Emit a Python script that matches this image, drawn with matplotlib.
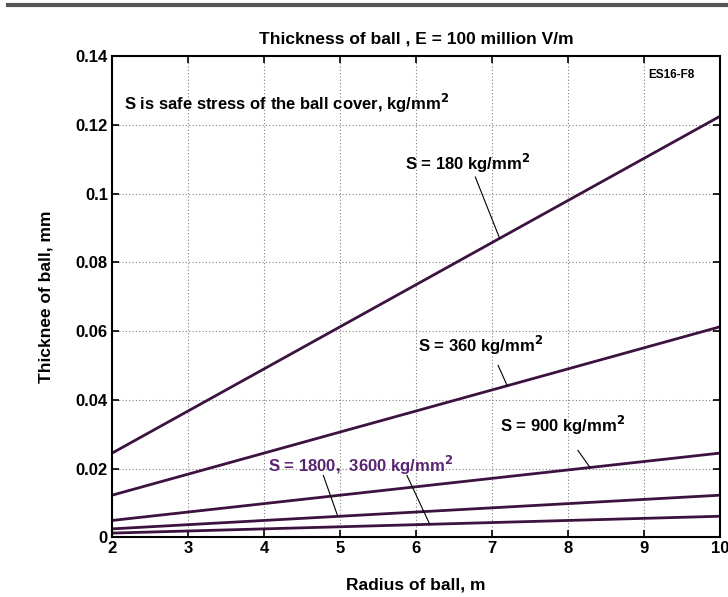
import matplotlib
matplotlib.use("Agg")
import matplotlib.pyplot as plt
from matplotlib.lines import Line2D

plt.rcParams['font.family'] = ['Liberation Sans', 'DejaVu Sans']

# Data
radius = [2, 10]
stress_labels = ["180", "360", "900", "1800", "3600"]
thick_180 = [0.0245, 0.1225]
thick_360 = [0.01225, 0.06125]
thick_900 = [0.0049, 0.0245]
thick_1800 = [0.00245, 0.01225]
thick_3600 = [0.001225, 0.006125]
series = [thick_180, thick_360, thick_900, thick_1800, thick_3600]
xticks = [2, 3, 4, 5, 6, 7, 8, 9, 10]
yticks = [0, 0.02, 0.04, 0.06, 0.08, 0.1, 0.12, 0.14]
ytick_labels = ["0", "0.02", "0.04", "0.06", "0.08", "0.1", "0.12", "0.14"]

line_color = "#3d1240"
label_purple = "#5a2570"

fig = plt.figure(figsize=(7.28, 5.97), dpi=100)
ax = fig.add_axes([0.154, 0.100, 0.835, 0.806])

for ys in series:
    ax.plot(radius, ys, color=line_color, lw=2.0, solid_capstyle='butt')

ax.set_xlim(2, 10)
ax.set_ylim(0, 0.14)
ax.set_xticks(xticks)
ax.set_xticklabels([str(x) for x in xticks], fontsize=12, fontweight='bold')
ax.set_yticks(yticks)
ax.set_yticklabels(ytick_labels, fontsize=12, fontweight='bold')
ax.tick_params(direction='in', top=True, right=True, length=5, width=1.2, pad=3)
ax.grid(True, linestyle=(0, (1, 2)), color='#808080', lw=0.8)
for s in ax.spines.values():
    s.set_linewidth(1.5)

ax.set_title("Thickness of ball , E = 100 million V/m", fontsize=12.5,
             fontweight='bold', pad=9)
ax.set_xlabel("Radius of ball, m", fontsize=12.5, fontweight='bold', labelpad=15)
ax.set_ylabel("Thicknee of ball, mm", fontsize=12.5, fontweight='bold', labelpad=16)

tkw = dict(fontsize=12, fontweight='bold', va='center', ha='left')
ax.text(2.16, 0.1262, "S is safe stress of the ball cover, kg/mm$^\\mathbf{2}$", **tkw)
ax.text(9.05, 0.1345, "ES16-F8", fontsize=8.5, fontweight='bold', va='center', ha='left')
ax.text(5.86, 0.1088, "S = 180 kg/mm$^\\mathbf{2}$", **tkw)
ax.text(6.03, 0.0559, "S = 360 kg/mm$^\\mathbf{2}$", **tkw)
ax.text(7.10, 0.0326, "S = 900 kg/mm$^\\mathbf{2}$", **tkw)
ax.text(4.05, 0.0210, "S = 1800,  3600 kg/mm$^\\mathbf{2}$", color=label_purple, **tkw)

leaders = [
    ((6.78, 0.1048), (7.10, 0.0870)),
    ((7.08, 0.0500), (7.20, 0.0441)),
    ((8.13, 0.0253), (8.29, 0.0203)),
    ((4.78, 0.0180), (4.97, 0.0061)),
    ((5.88, 0.0180), (6.18, 0.0038)),
]
for (x0, y0), (x1, y1) in leaders:
    ax.plot([x0, x1], [y0, y1], color='black', lw=0.8)

fig.add_artist(Line2D([0.011, 1.0], [0.992, 0.992], transform=fig.transFigure,
                      color='#555555', lw=3))

fig.savefig("out.png", dpi=100)
